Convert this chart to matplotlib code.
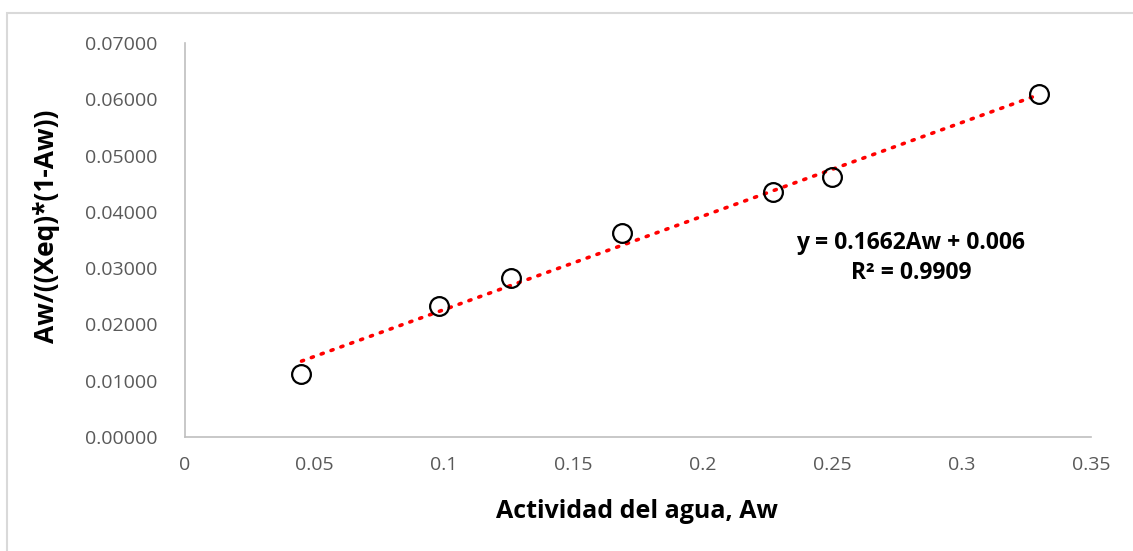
import numpy as np
import matplotlib
matplotlib.use("Agg")
import matplotlib.pyplot as plt
from matplotlib.patches import Rectangle

# Data
aw = [0.045, 0.098, 0.126, 0.169, 0.227, 0.250, 0.330]
y_val = [0.01125, 0.0232, 0.0282, 0.03625, 0.0436, 0.0462, 0.0609]

x_ticks = [0, 0.05, 0.1, 0.15, 0.2, 0.25, 0.3, 0.35]
x_ticklabels = ["0", "0.05", "0.1", "0.15", "0.2", "0.25", "0.3", "0.35"]
y_ticks = [0, 0.01, 0.02, 0.03, 0.04, 0.05, 0.06, 0.07]
y_ticklabels = ["%.5f" % v for v in y_ticks]

# trendline from the equation shown
slope = 0.1662
intercept = 0.006

plt.rcParams['font.family'] = ['Open Sans', 'DejaVu Sans']

fig = plt.figure(figsize=(11.33, 5.51), dpi=100)
ax = fig.add_axes([185/1133, 1-437/551, (1091-185)/1133, (437-43)/551])

# outer chart border
fig.patches.append(Rectangle((7/1133, -0.1), 1.2, 1 - 13/551 + 0.1,
                             transform=fig.transFigure, fill=False,
                             edgecolor="#d9d9d9", linewidth=1.5))

x_line = np.array([min(aw), max(aw)])
ax.plot(x_line, slope*x_line + intercept, color="red", linewidth=2.6,
        linestyle=(0, (0.6, 2.3)), dash_capstyle="round", zorder=2)

ax.plot(aw, y_val, linestyle="none", marker="o", markersize=13.5,
        markerfacecolor="none", markeredgecolor="black", markeredgewidth=1.6, zorder=3)

ax.set_xlim(0, 0.35)
ax.set_ylim(0, 0.07)
ax.set_xticks(x_ticks)
ax.set_xticklabels(x_ticklabels)
ax.set_yticks(y_ticks)
ax.set_yticklabels(y_ticklabels)
ax.tick_params(length=0, labelsize=14, labelcolor="#595959")
ax.tick_params(axis="x", pad=14)
ax.tick_params(axis="y", pad=20)

for s in ["top", "right"]:
    ax.spines[s].set_visible(False)
for s in ["left", "bottom"]:
    ax.spines[s].set_color("#bfbfbf")
    ax.spines[s].set_linewidth(1.2)

fig.text(637/1133, 1-512/551, "Actividad del agua, Aw", ha="center", va="center",
         fontsize=18, fontweight="bold", color="black")
fig.text(47/1133, 1-226/551, "Aw/((Xeq)*(1-Aw))", ha="center", va="center",
         rotation=90, fontsize=19, fontweight="bold", color="black")

fig.text(911/1133, 1-243/551, "y = 0.1662Aw + 0.006", ha="center", va="center",
         fontsize=16.5, fontweight="bold")
fig.text(911/1133, 1-273/551, "R² = 0.9909", ha="center", va="center",
         fontsize=16.5, fontweight="bold")

fig.savefig("out.png", dpi=100)
